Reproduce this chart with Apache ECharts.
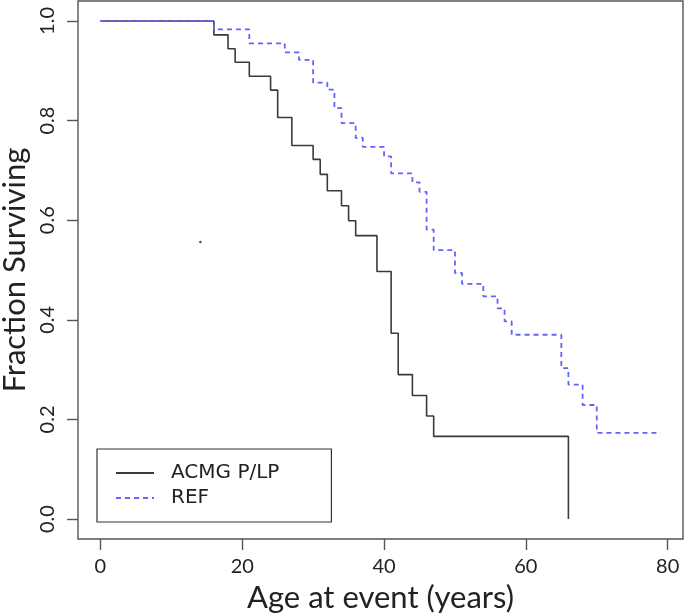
<!DOCTYPE html>
<html>
<head>
<meta charset="utf-8">
<script src="https://cdn.jsdelivr.net/npm/echarts@6/dist/echarts.min.js"></script>
<style>
html,body{margin:0;padding:0;background:#fff;}
#chart{width:685px;height:616px;}
</style>
</head>
<body>
<div id="chart"></div>
<script>
// Kaplan-Meier step data (time in years, fraction surviving)
var acmgTimes  = [0, 16, 18, 19, 21, 24, 25, 27, 30, 31, 32, 34, 35, 36, 39, 41, 42, 44, 46, 47, 66];
var acmgValues = [1.0, 0.972, 0.944, 0.917, 0.889, 0.861, 0.806, 0.750, 0.722, 0.692, 0.659, 0.629, 0.599, 0.569, 0.497, 0.373, 0.290, 0.248, 0.207, 0.166, 0.0];

var refTimes  = [0, 16, 21, 26, 28, 30, 32, 33, 34, 36, 37, 40, 41, 44, 45, 46, 47, 50, 51, 54, 56, 57, 58, 65, 66, 68, 70, 79];
var refValues = [1.0, 0.983, 0.955, 0.937, 0.922, 0.876, 0.862, 0.825, 0.795, 0.765, 0.747, 0.728, 0.694, 0.676, 0.657, 0.581, 0.540, 0.494, 0.472, 0.447, 0.423, 0.397, 0.370, 0.303, 0.270, 0.229, 0.173, 0.173];

// small stray dot visible in the original figure
var strayDot = [[14.1, 0.556]];

var xTicks = [0, 20, 40, 60, 80];
var yTicks = [0, 0.2, 0.4, 0.6, 0.8, 1.0];
var seriesNames = ['ACMG P/LP', 'REF'];
var xTitle = 'Age at event (years)';
var yTitle = 'Fraction Surviving';

function pairs(t, v) { return t.map(function (x, i) { return [x, v[i]]; }); }

var chart = echarts.init(document.getElementById('chart'), null, {renderer: 'canvas'});
var axisColor = '#555';
var font = 'Lato';
chart.setOption({
  animation: false,
  backgroundColor: '#fff',
  grid: {left: 78, right: 2, top: 1, bottom: 77, show: true, borderColor: axisColor, borderWidth: 1.4,
         backgroundColor: 'transparent', containLabel: false, outerBoundsMode: 'none'},
  xAxis: {
    type: 'value', min: -3.16, max: 82.16,
    axisLine: {show: false, onZero: false},
    splitLine: {show: false},
    axisTick: {show: true, inside: false, customValues: xTicks, length: 11, lineStyle: {color: axisColor, width: 1.4}},
    axisLabel: {customValues: xTicks, color: '#222', fontFamily: font, fontSize: 20, margin: 18},
    name: xTitle, nameLocation: 'middle', nameGap: 43,
    nameTextStyle: {fontFamily: font, fontSize: 31, color: '#222'}
  },
  yAxis: {
    type: 'value', min: -0.04, max: 1.04,
    axisLine: {show: false, onZero: false},
    splitLine: {show: false},
    axisTick: {show: true, inside: false, customValues: yTicks, length: 11, lineStyle: {color: axisColor, width: 1.4}},
    axisLabel: {customValues: yTicks, rotate: 90, color: '#222', fontFamily: font, fontSize: 20, margin: 20,
      formatter: function (v) { return v.toFixed(1); }},
    name: yTitle, nameLocation: 'middle', nameGap: 46, nameRotate: 90,
    nameTextStyle: {fontFamily: font, fontSize: 31, color: '#222'}
  },
  legend: {
    orient: 'vertical', left: 97, top: 449,
    data: seriesNames,
    borderColor: '#333', borderWidth: 1.2, borderRadius: 0,
    padding: [14, 52, 14, 18],
    itemWidth: 38, itemHeight: 20, itemGap: 5,
    itemStyle: {opacity: 0},
    textStyle: {fontFamily: 'DejaVu Sans', fontSize: 20, color: '#222', lineHeight: 20, padding: [0, 0, 0, 12]}
  },
  series: [
    {name: seriesNames[0], type: 'line', step: 'end', symbol: 'none', data: pairs(acmgTimes, acmgValues),
     lineStyle: {color: '#3a3a3a', width: 1.6}, itemStyle: {color: '#3a3a3a'}},
    {name: seriesNames[1], type: 'line', step: 'end', symbol: 'none', data: pairs(refTimes, refValues),
     lineStyle: {color: '#6262ff', width: 1.8, type: [5, 4]}, itemStyle: {color: '#6262ff'}},
    {name: 'dot', type: 'scatter', data: strayDot, symbol: 'circle', symbolSize: 2.5,
     itemStyle: {color: '#222'}, silent: true}
  ]
});
</script>
</body>
</html>
